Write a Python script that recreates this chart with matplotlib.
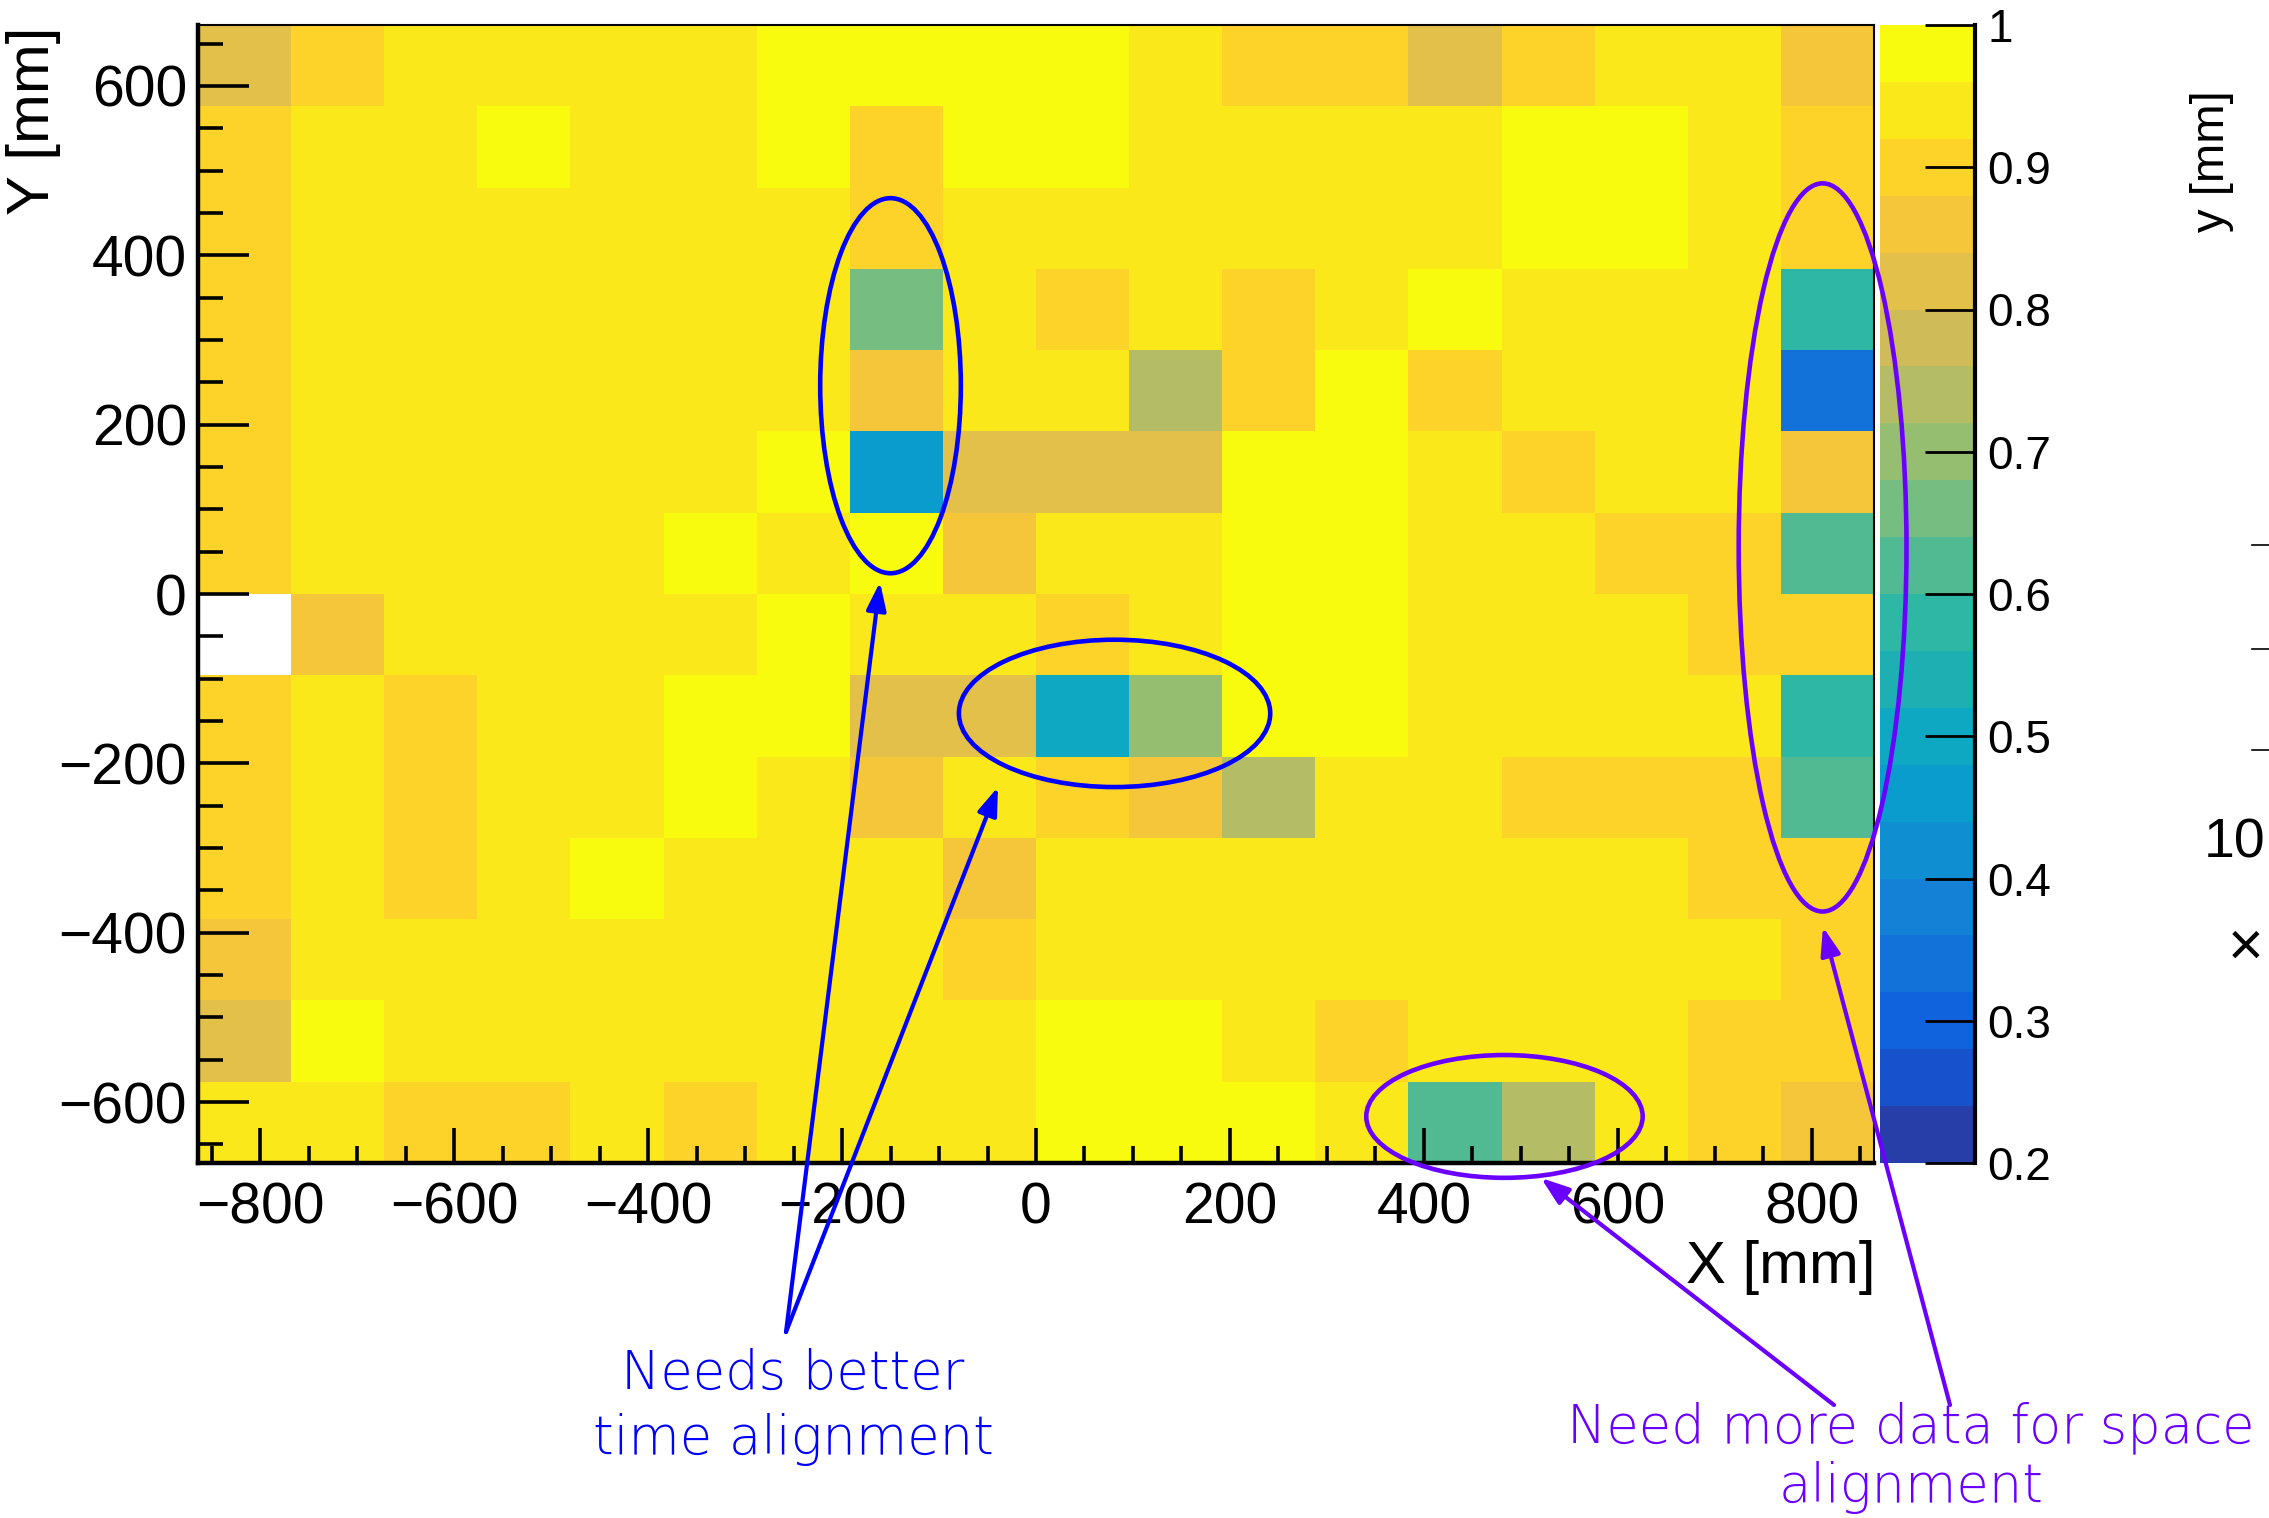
import matplotlib

matplotlib.use("Agg")
import matplotlib.pyplot as plt
import numpy as np
from matplotlib.colors import BoundaryNorm, LinearSegmentedColormap, ListedColormap
from matplotlib.lines import Line2D
from matplotlib.patches import Ellipse, FancyArrowPatch
from matplotlib.ticker import MultipleLocator

nan = np.nan

# 96 mm cells
x_edges = np.linspace(-864, 864, 19)
y_edges = np.linspace(-672, 672, 15)

# efficiency per cell, top row (Y 576..672) first; nan = cell without entries
efficiency = [
    [0.82, 0.90, 0.94, 0.94, 0.94, 0.94, 0.98, 0.98, 0.98, 0.98, 0.94, 0.90, 0.90, 0.82, 0.90, 0.94, 0.94, 0.86],
    [0.90, 0.94, 0.94, 0.98, 0.94, 0.94, 0.98, 0.90, 0.98, 0.98, 0.94, 0.94, 0.94, 0.94, 0.98, 0.98, 0.94, 0.90],
    [0.90, 0.94, 0.94, 0.94, 0.94, 0.94, 0.94, 0.90, 0.94, 0.94, 0.94, 0.94, 0.94, 0.94, 0.98, 0.98, 0.94, 0.90],
    [0.90, 0.94, 0.94, 0.94, 0.94, 0.94, 0.94, 0.66, 0.94, 0.90, 0.94, 0.90, 0.94, 0.98, 0.94, 0.94, 0.94, 0.58],
    [0.90, 0.94, 0.94, 0.94, 0.94, 0.94, 0.94, 0.86, 0.94, 0.94, 0.74, 0.90, 0.98, 0.90, 0.94, 0.94, 0.94, 0.33],
    [0.90, 0.94, 0.94, 0.94, 0.94, 0.94, 0.98, 0.46, 0.82, 0.82, 0.82, 0.98, 0.98, 0.94, 0.90, 0.94, 0.94, 0.86],
    [0.90, 0.94, 0.94, 0.94, 0.94, 0.98, 0.94, 0.98, 0.86, 0.94, 0.94, 0.98, 0.98, 0.94, 0.94, 0.90, 0.90, 0.62],
    [nan,  0.86, 0.94, 0.94, 0.94, 0.94, 0.98, 0.94, 0.94, 0.90, 0.94, 0.98, 0.98, 0.94, 0.94, 0.94, 0.90, 0.90],
    [0.90, 0.94, 0.90, 0.94, 0.94, 0.98, 0.98, 0.82, 0.82, 0.50, 0.70, 0.98, 0.98, 0.94, 0.94, 0.94, 0.94, 0.58],
    [0.90, 0.94, 0.90, 0.94, 0.94, 0.98, 0.94, 0.86, 0.94, 0.90, 0.86, 0.74, 0.94, 0.94, 0.90, 0.90, 0.90, 0.62],
    [0.90, 0.94, 0.90, 0.94, 0.98, 0.94, 0.94, 0.94, 0.86, 0.94, 0.94, 0.94, 0.94, 0.94, 0.94, 0.94, 0.90, 0.90],
    [0.86, 0.94, 0.94, 0.94, 0.94, 0.94, 0.94, 0.94, 0.90, 0.94, 0.94, 0.94, 0.94, 0.94, 0.94, 0.94, 0.94, 0.90],
    [0.82, 0.98, 0.94, 0.94, 0.94, 0.94, 0.94, 0.94, 0.94, 0.98, 0.98, 0.94, 0.90, 0.94, 0.94, 0.94, 0.90, 0.90],
    [0.94, 0.94, 0.90, 0.90, 0.94, 0.90, 0.94, 0.94, 0.94, 0.98, 0.98, 0.98, 0.94, 0.62, 0.74, 0.94, 0.90, 0.86],
]

z_levels = np.linspace(0.2, 1.0, 21)
cbar_ticks = [0.2, 0.3, 0.4, 0.5, 0.6, 0.7, 0.8, 0.9, 1.0]
cbar_labels = ["0.2", "0.3", "0.4", "0.5", "0.6", "0.7", "0.8", "0.9", "1"]

time_note = ["Needs better", "time alignment"]
space_note = ["Need more data for space", "alignment"]

# ROOT kBird palette
bird_stops = [0.0, 0.125, 0.25, 0.375, 0.5, 0.625, 0.75, 0.875, 1.0]
bird_red = [0.2082, 0.0592, 0.0780, 0.0232, 0.1802, 0.5301, 0.8186, 0.9956, 0.9764]
bird_green = [0.1664, 0.3599, 0.5041, 0.6419, 0.7178, 0.7492, 0.7328, 0.7862, 0.9832]
bird_blue = [0.5293, 0.8684, 0.8385, 0.7914, 0.6425, 0.4662, 0.3499, 0.1968, 0.0539]

W, H = 2269, 1518
BLUE = "#0000ff"
PURPLE = "#6a00ff"


def fig_xy(x, y):
    return x / W, 1 - y / H


def bird_levels(n):
    bird = LinearSegmentedColormap.from_list(
        "bird", list(zip(bird_stops, zip(bird_red, bird_green, bird_blue)))
    )
    # same pick ROOT does for COLZ contour bands
    return ListedColormap(bird((np.arange(n) + 0.99) / n))


def main():
    fig = plt.figure(figsize=(W / 100, H / 100), dpi=100)
    cax = fig.add_axes([1880 / W, 1 - 1163 / H, 95 / W, 1138 / H])
    ax = fig.add_axes([198 / W, 1 - 1163 / H, 1676 / W, 1138 / H])
    # rings may spill over the palette, so the map goes on top
    ax.set_zorder(2)

    n_bands = len(z_levels) - 1
    cmap = bird_levels(n_bands)
    norm = BoundaryNorm(z_levels, n_bands)

    z = np.ma.masked_invalid(np.flipud(np.array(efficiency)))
    mesh = ax.pcolormesh(x_edges, y_edges, z, cmap=cmap, norm=norm, antialiased=False)
    ax.set_facecolor("white")
    ax.set_xlim(x_edges[0], x_edges[-1])
    ax.set_ylim(y_edges[0], y_edges[-1])

    ax.set_xticks(np.arange(-800, 801, 200))
    ax.set_yticks(np.arange(-600, 601, 200))
    ax.xaxis.set_minor_locator(MultipleLocator(50))
    ax.yaxis.set_minor_locator(MultipleLocator(50))
    for lab in ax.get_xticklabels() + ax.get_yticklabels():
        lab.set_fontfamily("Liberation Sans")
        lab.set_fontsize(41)
    ax.tick_params(axis="x", which="major", direction="in", length=25, width=2.6, pad=13)
    ax.tick_params(axis="x", which="minor", direction="in", length=12, width=2.6)
    ax.tick_params(axis="y", which="major", direction="in", length=37, width=2.6, pad=8)
    ax.tick_params(axis="y", which="minor", direction="in", length=18, width=2.6)
    for side in ("left", "bottom"):
        ax.spines[side].set_linewidth(3.2)
    for side in ("top", "right"):
        ax.spines[side].set_linewidth(1.5)

    fig.text(*fig_xy(1875, 1283), "X [mm]", ha="right", va="baseline",
             family="Liberation Sans", size=43)
    fig.text(*fig_xy(34, 27), "Y [mm]", ha="center", va="top", rotation=90,
             family="Liberation Sans", size=43)

    cb = fig.colorbar(mesh, cax=cax, ticks=cbar_ticks, spacing="proportional")
    cb.outline.set_visible(False)
    cb.ax.set_yticklabels(cbar_labels, family="Liberation Sans", size=33)
    cb.ax.tick_params(direction="in", length=36, width=2.0, pad=9, right=True, left=False)
    cb.ax.minorticks_off()
    cb.ax.add_line(Line2D([1, 1], [0, 1], transform=cb.ax.transAxes, color="black",
                          lw=3.0, clip_on=False))

    # circled regions, in mm
    rings = [
        ((-150, 246), 145, 443, BLUE),
        ((81, -141), 321, 174, BLUE),
        ((811, 55), 173, 860, PURPLE),
        ((483, -617), 285, 145, PURPLE),
    ]
    for centre, w, h, col in rings:
        ax.add_patch(Ellipse(centre, w, h, fill=False, ec=col, lw=3.3,
                             clip_on=False, zorder=5))

    # arrows from the notes to the rings, in figure pixels
    arrows = [
        ((786, 1332), (880, 582), BLUE),
        ((786, 1332), (998, 787), BLUE),
        ((1834, 1405), (1541, 1178), PURPLE),
        ((1950, 1405), (1823, 927), PURPLE),
    ]
    for tail, head, col in arrows:
        fig.add_artist(FancyArrowPatch(
            fig_xy(*tail), fig_xy(*head), transform=fig.transFigure,
            arrowstyle="-|>,head_length=1.7,head_width=0.6", mutation_scale=10,
            color=col, lw=3.0, shrinkA=0, shrinkB=0, zorder=6))

    note_font = {"family": "DejaVu Sans", "weight": "light", "size": 38}
    for i, line in enumerate(time_note):
        fig.text(*fig_xy(793, 1389 + 65 * i), line, ha="center", va="baseline",
                 color=BLUE, **note_font)
    for i, line in enumerate(space_note):
        fig.text(*fig_xy(1911, 1442 + 60 * i), line, ha="center", va="baseline",
                 color=PURPLE, **note_font)

    # edge of the neighbouring plot on the slide
    fig.text(*fig_xy(2212, 161), "y [mm]", ha="center", va="center", rotation=90,
             family="Liberation Sans", size=34)
    for y in (545, 649, 750):
        fig.add_artist(Line2D([2252 / W, 1.0], [1 - y / H] * 2, color="black", lw=1.2))
    fig.text(*fig_xy(2265, 843), "10", ha="right", va="center",
             family="Liberation Sans", size=40)
    fig.text(*fig_xy(2228, 949), "×", ha="left", va="center",
             family="Liberation Sans", size=44)

    fig.savefig("out.png", dpi=100)


if __name__ == "__main__":
    main()
